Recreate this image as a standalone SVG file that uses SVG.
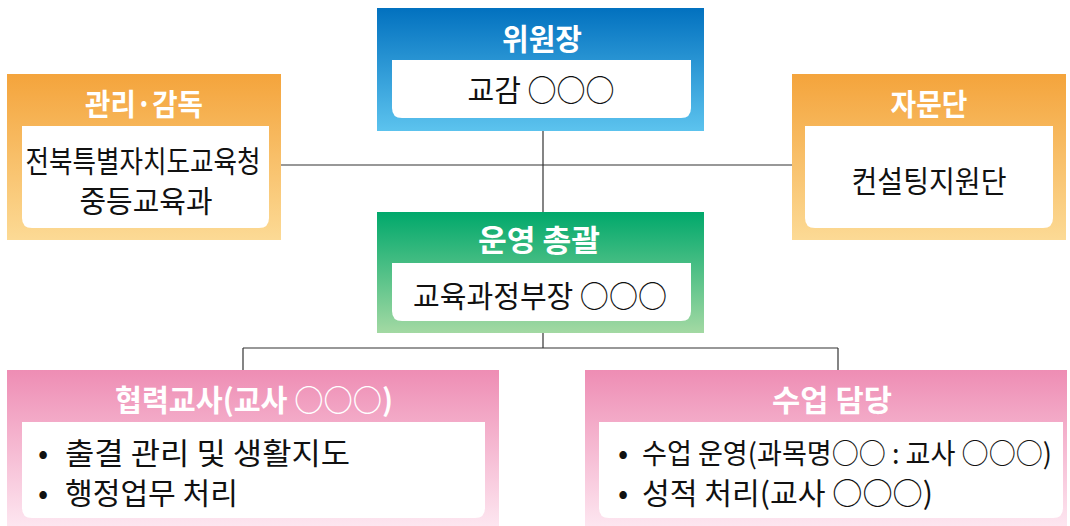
<svg xmlns="http://www.w3.org/2000/svg" width="1070" height="526" viewBox="0 0 1070 526">
<defs>
<linearGradient id="gBlue" x1="0" y1="0" x2="0" y2="1"><stop offset="0" stop-color="#0271bf"/><stop offset="1" stop-color="#5cc3ee"/></linearGradient>
<linearGradient id="gOrange" x1="0" y1="0" x2="0" y2="1"><stop offset="0" stop-color="#f4a43c"/><stop offset="1" stop-color="#fcda95"/></linearGradient>
<linearGradient id="gGreen" x1="0" y1="0" x2="0" y2="1"><stop offset="0" stop-color="#00a86b"/><stop offset="1" stop-color="#a3d9a3"/></linearGradient>
<linearGradient id="gPink" x1="0" y1="0" x2="0" y2="1"><stop offset="0" stop-color="#ee8db4"/><stop offset="1" stop-color="#fde6f0"/></linearGradient>
</defs>
<style>
.title{font-family:"Noto Sans CJK KR","Noto Sans",sans-serif;font-weight:bold;font-size:30px;fill:#ffffff;text-anchor:middle}
.body{font-family:"Noto Sans CJK KR","Noto Sans",sans-serif;font-size:30px;fill:#111111}
.mid{text-anchor:middle}
.inner{fill:#ffffff}
.conn{stroke:#333333;stroke-width:1.2;fill:none}
</style>
<rect width="1070" height="526" fill="#ffffff"/>
<g id="connectors">
<line class="conn" x1="543" y1="131" x2="543" y2="212"/>
<line class="conn" x1="281" y1="165" x2="792" y2="165"/>
<line class="conn" x1="543" y1="333" x2="543" y2="348"/>
<line class="conn" x1="243" y1="348" x2="838" y2="348"/>
<line class="conn" x1="243" y1="348" x2="243" y2="370"/>
<line class="conn" x1="838" y1="348" x2="838" y2="370"/>
</g>
<g id="chair">
<rect x="377" y="8" width="327" height="123" fill="url(#gBlue)"/>
<path class="inner" d="M392,60 H691 V108 Q691,118 681,118 H402 Q392,118 392,108 Z"/>
<text class="title" x="542" y="50" textLength="80" lengthAdjust="spacingAndGlyphs">위원장</text>
<text class="body mid" x="541" y="101" textLength="147" lengthAdjust="spacingAndGlyphs">교감 ○○○</text>
</g>
<g id="supervision">
<rect x="7" y="74" width="274" height="166" fill="url(#gOrange)"/>
<path class="inner" d="M22,126 H269 V218 Q269,228 259,228 H32 Q22,228 22,218 Z"/>
<text class="title" x="144" y="115" textLength="118" lengthAdjust="spacingAndGlyphs">관리·감독</text>
<text class="body mid" x="143" y="172" textLength="235" lengthAdjust="spacingAndGlyphs">전북특별자치도교육청</text>
<text class="body mid" x="146" y="212" textLength="133" lengthAdjust="spacingAndGlyphs">중등교육과</text>
</g>
<g id="advisory">
<rect x="792" y="74" width="274" height="166" fill="url(#gOrange)"/>
<path class="inner" d="M805,126 H1053 V218 Q1053,228 1043,228 H815 Q805,228 805,218 Z"/>
<text class="title" x="929" y="115" textLength="77" lengthAdjust="spacingAndGlyphs">자문단</text>
<text class="body mid" x="929" y="192" textLength="155" lengthAdjust="spacingAndGlyphs">컨설팅지원단</text>
</g>
<g id="operation">
<rect x="377" y="212" width="327" height="121" fill="url(#gGreen)"/>
<path class="inner" d="M392,263 H691 V311 Q691,321 681,321 H402 Q392,321 392,311 Z"/>
<text class="title" x="539" y="251" textLength="122" lengthAdjust="spacingAndGlyphs">운영 총괄</text>
<text class="body mid" x="540" y="307" textLength="254" lengthAdjust="spacingAndGlyphs">교육과정부장 ○○○</text>
</g>
<g id="coop-teacher">
<rect x="7" y="370" width="492" height="156" fill="url(#gPink)"/>
<path class="inner" d="M22,422 H485 V508 Q485,518 475,518 H32 Q22,518 22,508 Z"/>
<text class="title" x="254" y="411" textLength="278" lengthAdjust="spacingAndGlyphs">협력교사(교사 ○○○)</text>
<text class="body"><tspan x="38" y="464">•</tspan><tspan x="65" y="464" textLength="285" lengthAdjust="spacingAndGlyphs">출결 관리 및 생활지도</tspan></text>
<text class="body"><tspan x="38" y="504">•</tspan><tspan x="65" y="504" textLength="173" lengthAdjust="spacingAndGlyphs">행정업무 처리</tspan></text>
</g>
<g id="class-teacher">
<rect x="585" y="370" width="482" height="156" fill="url(#gPink)"/>
<path class="inner" d="M599,422 H1063 V508 Q1063,518 1053,518 H609 Q599,518 599,508 Z"/>
<text class="title" x="832" y="411" textLength="120" lengthAdjust="spacingAndGlyphs">수업 담당</text>
<text class="body"><tspan x="618" y="464">•</tspan><tspan x="642" y="464" font-size="28" textLength="410" lengthAdjust="spacingAndGlyphs">수업 운영(과목명○○ : 교사 ○○○)</tspan></text>
<text class="body"><tspan x="618" y="504">•</tspan><tspan x="642" y="504" textLength="291" lengthAdjust="spacingAndGlyphs">성적 처리(교사 ○○○)</tspan></text>
</g>
</svg>
